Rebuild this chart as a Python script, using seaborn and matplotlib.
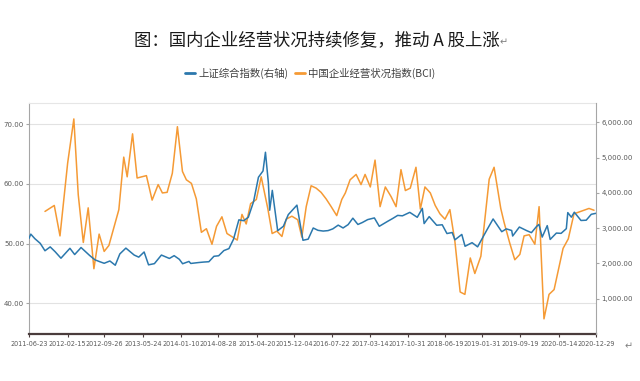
import matplotlib
matplotlib.use("Agg")
import pandas as pd
import matplotlib.pyplot as plt
from matplotlib.ticker import FuncFormatter
import seaborn as sns

# --- data --------------------------------------------------------------------
SSE_DATES = [
    "2011-06-23", "2011-07-04", "2011-07-29", "2011-08-31", "2011-09-29", "2011-10-31",
    "2011-11-30", "2012-01-05", "2012-02-29", "2012-03-29", "2012-04-27", "2012-05-07",
    "2012-06-29", "2012-07-31", "2012-08-31", "2012-09-26", "2012-10-31", "2012-12-03",
    "2012-12-31", "2013-02-06", "2013-03-29", "2013-04-26", "2013-05-29", "2013-06-25",
    "2013-07-31", "2013-09-12", "2013-10-31", "2013-11-29", "2013-12-31", "2014-01-20",
    "2014-02-28", "2014-03-11", "2014-04-30", "2014-05-30", "2014-06-30", "2014-07-31",
    "2014-08-29", "2014-09-30", "2014-10-31", "2014-11-28", "2014-12-31", "2015-01-30",
    "2015-02-27", "2015-03-31", "2015-04-30", "2015-05-28", "2015-06-12", "2015-06-30",
    "2015-07-08", "2015-07-24", "2015-08-26", "2015-09-30", "2015-10-30", "2015-12-22",
    "2016-01-28", "2016-02-29", "2016-03-31", "2016-04-29", "2016-05-31", "2016-06-30",
    "2016-07-29", "2016-08-31", "2016-09-30", "2016-10-31", "2016-11-29", "2016-12-30",
    "2017-01-26", "2017-02-28", "2017-04-10", "2017-05-10", "2017-06-30", "2017-07-31",
    "2017-08-31", "2017-09-29", "2017-11-13", "2017-12-29", "2018-01-29", "2018-02-09",
    "2018-03-12", "2018-04-27", "2018-05-31", "2018-06-29", "2018-07-31", "2018-08-17",
    "2018-09-28", "2018-10-18", "2018-11-30", "2019-01-03", "2019-02-28", "2019-04-08",
    "2019-05-31", "2019-06-28", "2019-07-31", "2019-08-06", "2019-09-16", "2019-10-31",
    "2019-11-29", "2019-12-31", "2020-01-14", "2020-02-03", "2020-03-05", "2020-03-23",
    "2020-04-30", "2020-05-29", "2020-06-30", "2020-07-09", "2020-07-31", "2020-08-18",
    "2020-09-28", "2020-10-30", "2020-11-30", "2020-12-29",
]
SSE_VALUES = [
    2710, 2830, 2701, 2568, 2359, 2468,
    2333, 2148, 2428, 2252, 2397, 2451,
    2225, 2103, 2047, 2004, 2069, 1949,
    2269, 2434, 2237, 2178, 2324, 1960,
    1994, 2237, 2141, 2220, 2116, 1991,
    2056, 1999, 2026, 2039, 2048, 2202,
    2217, 2364, 2420, 2683, 3235, 3210,
    3310, 3748, 4442, 4620, 5150, 4277,
    3507, 4070, 2927, 3053, 3383, 3651,
    2656, 2688, 3004, 2938, 2917, 2930,
    2979, 3085, 3005, 3100, 3282, 3104,
    3159, 3242, 3289, 3052, 3192, 3273,
    3361, 3349, 3447, 3307, 3560, 3129,
    3326, 3082, 3095, 2847, 2876, 2669,
    2821, 2486, 2588, 2470, 2941, 3260,
    2899, 2979, 2933, 2777, 3031, 2929,
    2872, 3050, 3106, 2746, 3071, 2680,
    2860, 2852, 2985, 3440, 3310, 3451,
    3217, 3225, 3392, 3420,
]

BCI_DATES = [
    "2011-09-29", "2011-11-25", "2011-12-30", "2012-02-15", "2012-03-24", "2012-04-20",
    "2012-05-21", "2012-06-20", "2012-07-25", "2012-08-26", "2012-09-26", "2012-10-25",
    "2012-12-25", "2013-01-24", "2013-02-14", "2013-03-19", "2013-04-16", "2013-06-12",
    "2013-07-17", "2013-08-23", "2013-09-18", "2013-10-17", "2013-11-18", "2013-12-19",
    "2014-01-19", "2014-02-12", "2014-03-15", "2014-04-14", "2014-05-15", "2014-06-15",
    "2014-07-19", "2014-08-16", "2014-09-18", "2014-10-19", "2014-12-21", "2015-01-19",
    "2015-02-14", "2015-03-13", "2015-04-17", "2015-05-17", "2015-06-27", "2015-07-23",
    "2015-08-21", "2015-09-21", "2015-10-17", "2015-11-21", "2015-12-27", "2016-01-21",
    "2016-02-17", "2016-03-18", "2016-04-18", "2016-05-18", "2016-06-18", "2016-07-19",
    "2016-08-22", "2016-09-22", "2016-10-14", "2016-11-12", "2016-12-19", "2017-01-18",
    "2017-02-12", "2017-03-16", "2017-04-14", "2017-05-15", "2017-06-16", "2017-07-21",
    "2017-08-21", "2017-09-20", "2017-10-17", "2017-11-16", "2017-12-21", "2018-01-17",
    "2018-02-14", "2018-03-19", "2018-04-18", "2018-05-17", "2018-06-17", "2018-07-17",
    "2018-08-17", "2018-09-18", "2018-10-17", "2018-11-19", "2018-12-17", "2019-01-23",
    "2019-03-15", "2019-04-14", "2019-05-25", "2019-06-14", "2019-07-19", "2019-08-19",
    "2019-09-19", "2019-10-15", "2019-11-15", "2019-12-20", "2020-01-15", "2020-02-14",
    "2020-03-16", "2020-04-16", "2020-06-10", "2020-07-12", "2020-08-16", "2020-11-16",
    "2020-12-17",
]
BCI_VALUES = [
    55.4, 56.4, 51.3, 63.5, 70.9, 58.2,
    50.2, 56.0, 45.8, 51.6, 48.7, 49.7,
    55.7, 64.5, 61.2, 68.4, 61.0, 61.4,
    57.3, 59.9, 58.5, 58.6, 61.8, 69.6,
    62.1, 60.7, 60.1, 57.5, 51.9, 52.5,
    49.9, 52.9, 54.5, 51.7, 50.6, 54.9,
    53.3, 56.7, 57.4, 61.2, 55.8, 51.7,
    52.1, 51.2, 54.1, 54.6, 54.0, 51.1,
    56.2, 59.7, 59.3, 58.6, 57.5, 56.2,
    54.7, 57.4, 58.5, 60.7, 61.6, 59.9,
    61.6, 59.5, 64.0, 56.2, 59.5, 57.9,
    56.2, 62.4, 58.9, 59.3, 62.8, 55.8,
    59.5, 58.5, 56.4, 55.0, 54.1, 55.7,
    50.3, 41.9, 41.5, 47.6, 45.0, 47.9,
    60.8, 62.8, 55.9, 53.6, 50.1, 47.3,
    48.2, 51.3, 51.5, 49.9, 56.2, 37.4,
    41.5, 42.3, 49.2, 50.8, 55.0, 55.9,
    55.6,
]

TICK_DATES = [
    "2011-06-23", "2012-02-15", "2012-09-26", "2013-05-24", "2014-01-10", "2014-08-28",
    "2015-04-20", "2015-12-04", "2016-07-22", "2017-03-14", "2017-10-31", "2018-06-19",
    "2019-01-31", "2019-09-19", "2020-05-14", "2020-12-29",
]

TITLE = "图：国内企业经营状况持续修复，推动 A 股上涨"
SSE_LABEL = "上证综合指数(右轴)"
BCI_LABEL = "中国企业经营状况指数(BCI)"

BLUE = "#2b78ad"
ORANGE = "#f59a35"

# --- plotting ----------------------------------------------------------------
sns.set_theme(style="white")
plt.rcParams["font.family"] = ["Noto Sans CJK SC", "DejaVu Sans"]

sse = pd.DataFrame({"date": pd.to_datetime(SSE_DATES), "value": SSE_VALUES})
bci = pd.DataFrame({"date": pd.to_datetime(BCI_DATES), "value": BCI_VALUES})

fig = plt.figure(figsize=(6.4, 3.81), dpi=100)
ax = fig.add_axes([29 / 640, 1 - 334 / 381, 567 / 640, 231 / 381])
ax2 = ax.twinx()

sns.lineplot(data=bci, x="date", y="value", ax=ax, color=ORANGE, linewidth=1.1,
             label=BCI_LABEL, legend=False)
sns.lineplot(data=sse, x="date", y="value", ax=ax2, color=BLUE, linewidth=1.1,
             label=SSE_LABEL, legend=False)

ax.set_xlim(pd.Timestamp(TICK_DATES[0]), pd.Timestamp(TICK_DATES[-1]))
ax.set_xticks(pd.to_datetime(TICK_DATES))
ax.set_xticklabels(TICK_DATES)
ax.set_ylim(34.86, 73.57)
ax.set_yticks([40, 50, 60, 70])
ax.yaxis.set_major_formatter(FuncFormatter(lambda v, _: f"{v:.2f}"))
ax2.set_ylim(0, 6546)
ax2.set_yticks([1000, 2000, 3000, 4000, 5000, 6000])
ax2.yaxis.set_major_formatter(FuncFormatter(lambda v, _: f"{v:,.2f}"))
for a in (ax, ax2):
    a.set_xlabel("")
    a.set_ylabel("")

ax.yaxis.grid(True, color="#e2e2e2", linewidth=0.8)
ax.set_axisbelow(True)

ax.spines["left"].set_color("#a6a6a6")
ax.spines["left"].set_linewidth(0.8)
ax.spines["top"].set_color("#e6e6e6")
ax.spines["top"].set_linewidth(0.8)
ax.spines["right"].set_visible(False)
ax.spines["bottom"].set_color("#4a3c3c")
ax.spines["bottom"].set_linewidth(1.6)
for s in ("left", "top", "bottom"):
    ax2.spines[s].set_visible(False)
ax2.spines["right"].set_color("#a6a6a6")
ax2.spines["right"].set_linewidth(0.8)

tick_font = ["Liberation Sans Narrow", "DejaVu Sans"]
ax.tick_params(axis="x", bottom=True, direction="out", length=2.5, width=0.8,
               color="#4a3c3c", labelsize=4.7, labelcolor="#595959", pad=2.5)
ax.tick_params(axis="y", left=True, direction="out", length=2.5, width=0.8,
               color="#a6a6a6", labelsize=5.0, labelcolor="#595959", pad=1)
ax2.tick_params(axis="y", right=True, direction="out", length=2.5, width=0.8,
                color="#a6a6a6", labelsize=5.0, labelcolor="#595959", pad=1.5)
for lab in ax.get_xticklabels() + ax.get_yticklabels() + ax2.get_yticklabels():
    lab.set_family(tick_font)

handles = ax2.get_lines()[:1] + ax.get_lines()[:1]
fig.legend(handles, [SSE_LABEL, BCI_LABEL], loc="center",
           bbox_to_anchor=(310 / 640, 1 - 73 / 381), ncol=2, frameon=False,
           fontsize=7.5, handlelength=1.0, handletextpad=0.3, columnspacing=0.6,
           labelcolor="#404040")
for h in fig.legends[0].legend_handles:
    h.set_linewidth(2.0)

fig.text(317 / 640, 1 - 40 / 381, TITLE, ha="center", va="center",
         fontsize=12.5, color="#1a1a1a")
fig.text(500 / 640, 1 - 42 / 381, "↵", ha="left", va="center",
         fontsize=7, color="#808080", family=["DejaVu Sans"])
fig.text(629 / 640, 1 - 346 / 381, "↵", ha="center", va="center",
         fontsize=7, color="#808080", family=["DejaVu Sans"])

fig.savefig("out.png", dpi=100)
